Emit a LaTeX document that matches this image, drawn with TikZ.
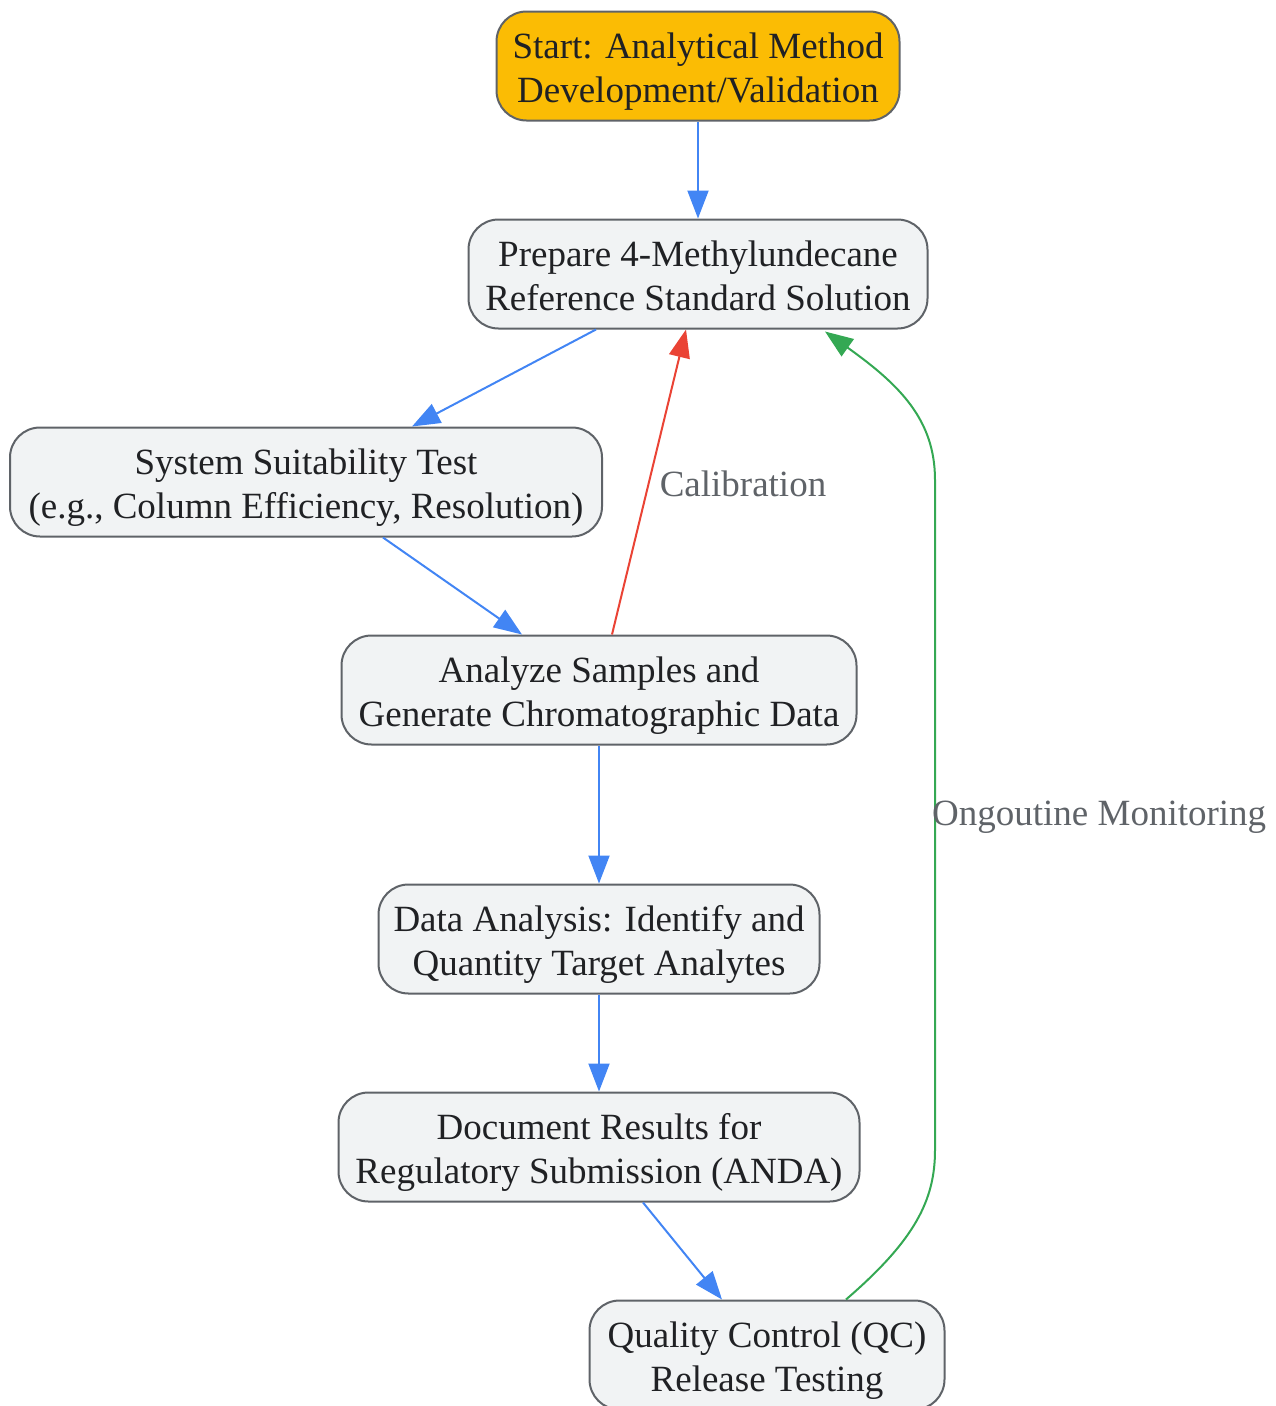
\documentclass[tikz,border=0pt]{standalone}
\usepackage{fontspec}
\setmainfont{Liberation Serif}
\usetikzlibrary{arrows.meta}
\definecolor{startfill}{HTML}{FBBC04}
\definecolor{nodefill}{HTML}{F1F3F4}
\definecolor{nodeline}{HTML}{5F6368}
\definecolor{txt}{HTML}{202124}
\definecolor{gblue}{HTML}{4285F4}
\definecolor{gred}{HTML}{EA4335}
\definecolor{ggreen}{HTML}{34A853}
\definecolor{lbl}{HTML}{5F6368}
\newcommand\twolines[2]{\rule{0pt}{41pt}#1\\#2\rule[-12pt]{0pt}{12pt}}
\tikzset{
  box/.style={draw=nodeline, line width=2pt, fill=nodefill, rounded corners=30pt,
    minimum height=109pt, inner sep=0pt, align=center, text=txt,
    font=\fontsize{37}{44}\selectfont},
  startbox/.style={box, fill=startfill},
  conn/.style={line width=2pt, -{Triangle[length=28pt,width=21pt]}},
  elabel/.style={text=lbl, font=\fontsize{37}{44}\selectfont, inner sep=0pt},
}
\begin{document}
\begin{tikzpicture}[x=1pt,y=-1pt]
\useasboundingbox (0,0) rectangle (1275,1406);
\node[startbox, minimum width=403pt] (start) at (698,66) {\twolines{Start: Analytical Method}{Development/Validation}};
\node[box, minimum width=459pt] (prep) at (698,274) {\twolines{Prepare 4-Methylundecane}{Reference Standard Solution}};
\node[box, minimum width=592pt] (sys) at (306,482) {\twolines{System Suitability Test}{(e.g., Column Efficiency, Resolution)}};
\node[box, minimum width=515pt] (ana) at (599,690) {\twolines{Analyze Samples and}{Generate Chromatographic Data}};
\node[box, minimum width=441pt] (data) at (599,939) {\twolines{Data Analysis: Identify and}{Quantity Target Analytes}};
\node[box, minimum width=521pt] (doc) at (599,1147) {\twolines{Document Results for}{Regulatory Submission (ANDA)}};
\node[box, minimum width=355pt] (qc) at (767,1355) {\twolines{Quality Control (QC)}{Release Testing}};

\draw[conn, gblue] (start.south) -- (prep.north);
\draw[conn, gblue] ([xshift=-102pt]prep.south) -- ([xshift=106pt]sys.north);
\draw[conn, gblue] ([xshift=77pt]sys.south) -- ([xshift=-77pt]ana.north);
\draw[conn, gred] ([xshift=13pt]ana.north) -- ([xshift=-12pt]prep.south);
\draw[conn, gblue] (ana.south) -- (data.north);
\draw[conn, gblue] (data.south) -- (doc.north);
\draw[conn, gblue] ([xshift=44pt]doc.south) -- ([xshift=-45pt]qc.north);
\draw[conn, ggreen] ([xshift=79pt]qc.north) .. controls (915,1240) and (935,1200) .. (935,1150)
  -- (935,480) .. controls (935,420) and (900,385) .. ([xshift=127pt,yshift=-2pt]prep.south);

\node[elabel] (calib) at (743,484) {Calibration};
\node[elabel, anchor=west] (mon) at (932,817) {Ongoutine Monitoring};
\end{tikzpicture}
\end{document}
